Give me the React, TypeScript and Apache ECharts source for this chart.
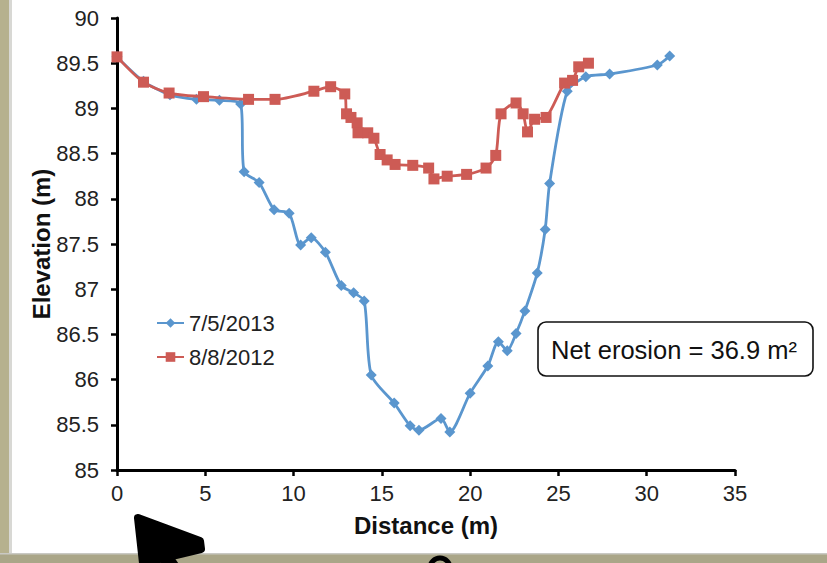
import React, { useEffect, useRef } from "react";
import * as echarts from "echarts";

const blueName = "7/5/2013";
const redName = "8/8/2012";

const blueDist = [0, 1.5, 3.0, 4.5, 5.8, 7.0, 7.2, 8.05, 8.9, 9.75, 10.4, 11.0, 11.8, 12.7, 13.4, 14.0, 14.4, 15.7, 16.6, 17.1, 18.35, 18.85, 20.0, 21.0, 21.6, 22.1, 22.6, 23.1, 23.8, 24.25, 24.5, 25.5, 26.55, 27.9, 30.6, 31.3];
const blueElev = [89.57, 89.3, 89.15, 89.1, 89.09, 89.05, 88.3, 88.18, 87.88, 87.84, 87.49, 87.57, 87.41, 87.04, 86.96, 86.87, 86.05, 85.74, 85.49, 85.44, 85.57, 85.42, 85.85, 86.15, 86.42, 86.32, 86.51, 86.76, 87.18, 87.66, 88.17, 89.19, 89.35, 89.38, 89.48, 89.58];

const redDist = [0, 1.5, 2.95, 4.9, 7.45, 8.95, 11.15, 12.1, 12.9, 13.0, 13.25, 13.6, 13.65, 14.2, 14.55, 14.9, 15.3, 15.75, 16.75, 17.65, 17.95, 18.7, 19.8, 20.9, 21.45, 21.75, 22.6, 23.0, 23.25, 23.65, 24.3, 25.35, 25.8, 26.15, 26.7];
const redElev = [89.57, 89.29, 89.17, 89.13, 89.1, 89.1, 89.19, 89.24, 89.16, 88.94, 88.9, 88.84, 88.73, 88.73, 88.67, 88.49, 88.43, 88.38, 88.37, 88.34, 88.22, 88.25, 88.27, 88.34, 88.48, 88.94, 89.06, 88.94, 88.74, 88.88, 88.9, 89.28, 89.31, 89.46, 89.5];

const xTicks = { min: 0, max: 35, interval: 5 };
const yTicks = { min: 85, max: 90, interval: 0.5 };
const annotation = "Net erosion = 36.9 m²";

const FONT = "Liberation Sans, Arial, sans-serif";

export default function App() {
  const ref = useRef<HTMLDivElement>(null);
  useEffect(() => {
    document.body.style.margin = "0";
    const chart = echarts.init(ref.current!, null, { renderer: "svg" });
    const blue = blueDist.map((d, i) => [d, blueElev[i]]);
    const red = redDist.map((d, i) => [d, redElev[i]]);
    chart.setOption({
      animation: false,
      backgroundColor: "#ffffff",
      textStyle: { fontFamily: FONT },
      grid: { left: 117, right: 92, top: 18, bottom: 93, containLabel: false },
      legend: {
        orient: "vertical",
        left: 151,
        top: 307,
        itemWidth: 27,
        itemHeight: 12,
        itemGap: 12,
        textStyle: { fontSize: 22, color: "#222", fontFamily: FONT },
        data: [blueName, redName],
      },
      xAxis: {
        type: "value",
        min: xTicks.min,
        max: xTicks.max,
        interval: xTicks.interval,
        name: "Distance (m)",
        nameLocation: "middle",
        nameGap: 43,
        nameMoveOverlap: false,
        nameTextStyle: { fontSize: 24, fontWeight: "bold", color: "#111", fontFamily: FONT },
        axisLine: { lineStyle: { color: "#000", width: 3 } },
        axisTick: { show: true, length: 6, lineStyle: { color: "#000", width: 2.5 } },
        axisLabel: { fontSize: 22, color: "#222", margin: 12, fontFamily: FONT },
        splitLine: { show: false },
      },
      yAxis: {
        type: "value",
        min: yTicks.min,
        max: yTicks.max,
        interval: yTicks.interval,
        name: "Elevation (m)",
        nameLocation: "middle",
        nameGap: 64,
        nameMoveOverlap: false,
        nameTextStyle: { fontSize: 24, fontWeight: "bold", color: "#111", fontFamily: FONT },
        axisLine: { show: true, lineStyle: { color: "#000", width: 3 } },
        axisTick: { show: true, length: 6, lineStyle: { color: "#000", width: 2.5 } },
        axisLabel: { fontSize: 22, color: "#222", margin: 18, fontFamily: FONT },
        splitLine: { show: false },
      },
      series: [
        {
          name: blueName,
          type: "line",
          data: blue,
          smooth: 0.25,
          symbol: "diamond",
          symbolSize: 11,
          itemStyle: { color: "#5A96CE" },
          lineStyle: { color: "#5A96CE", width: 2.8 },
          z: 2,
        },
        {
          name: redName,
          type: "line",
          data: red,
          smooth: 0.25,
          symbol: "rect",
          symbolSize: 11,
          itemStyle: { color: "#CD5B55" },
          lineStyle: { color: "#CD5B55", width: 2.8 },
          z: 3,
        },
      ],
      graphic: [
        { type: "rect", shape: { x: 0, y: 0, width: 9, height: 563 }, style: { fill: "#b6b18e" }, z: -5 },
        { type: "rect", shape: { x: 9, y: 0, width: 3, height: 563 }, style: { fill: "#d8d8d4" }, z: -5 },
        { type: "rect", shape: { x: 0, y: 554, width: 827, height: 9 }, style: { fill: "#aaa688" }, z: -5 },
        { type: "rect", shape: { x: 0, y: 553, width: 827, height: 1.5 }, style: { fill: "#c9c9c4" }, z: -5 },
        {
          type: "rect",
          shape: { x: 538, y: 322, width: 275, height: 54, r: 8 },
          style: { fill: "#fff", stroke: "#111", lineWidth: 1.6 },
          z: 10,
        },
        {
          type: "text",
          x: 551,
          y: 350,
          style: { text: annotation, fontSize: 25.5, fill: "#111", fontFamily: FONT, verticalAlign: "middle", align: "left" },
          z: 11,
        },
        {
          type: "polygon",
          shape: { points: [[138, 518], [200, 541], [201, 549], [143, 563]] },
          style: { fill: "#000", stroke: "#000", lineWidth: 8, lineJoin: "round" },
          z: 12,
        },
        {
          type: "line",
          shape: { x1: 150, y1: 535, x2: 178, y2: 575 },
          style: { stroke: "#000", lineWidth: 14 },
          z: 12,
        },
        {
          type: "arc",
          shape: { cx: 440, cy: 568, r: 10, startAngle: Math.PI, endAngle: 2 * Math.PI },
          style: { stroke: "#000", lineWidth: 5, fill: "none" },
          z: 12,
        },
      ],
    });
    return () => chart.dispose();
  }, []);
  return <div ref={ref} style={{ position: "absolute", left: 0, top: 0, width: 827, height: 563 }} />;
}
